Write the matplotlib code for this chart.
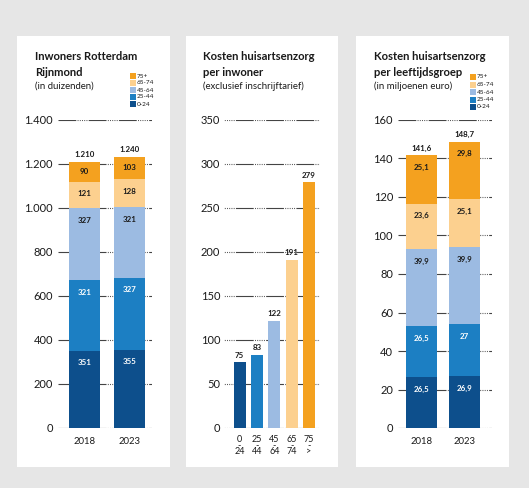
import matplotlib
matplotlib.use("Agg")
import matplotlib.pyplot as plt
from matplotlib.patches import Rectangle

plt.rcParams['font.family'] = ['Lato', 'DejaVu Sans']

# data
groups = ["0-24", "25-44", "45-64", "65-74", "75+"]
colors = ["#0d4f8c", "#1c7fc3", "#9cbbe2", "#fcd08f", "#f4a11f"]

years = ["2018", "2023"]
inwoners_2018 = [351, 321, 327, 121, 90]
inwoners_2023 = [355, 327, 321, 128, 103]
inwoners_totals = [1210, 1240]

kosten_per_inwoner = [75, 83, 122, 191, 279]
leeftijd_labels = ["0\n-\n24", "25\n-\n44", "45\n-\n64", "65\n-\n74", "75\n-\n>"]

kosten_2018 = [26.5, 26.5, 39.9, 23.6, 25.1]
kosten_2023 = [26.9, 27, 39.9, 25.1, 29.8]
kosten_totals = [141.6, 148.7]

W, H = 529, 488
TXT = "#1a1a1a"
GRID_DASH = (16, 1.2, 0.8, 1.2, 0.8, 1.2, 0.8, 1.2, 0.8, 1.2, 0.8, 1.2)


def nl(v):
    """Dutch number format"""
    if float(v).is_integer():
        return f"{int(v):,}".replace(",", ".")
    return f"{v}".replace(".", ",")


def fx(px):
    return px / W


def fy(py):
    return 1 - py / H


fig = plt.figure(figsize=(W / 100, H / 100), dpi=100, facecolor="#e6e6e6")

# white panels
for x0, x1 in [(17, 170), (186, 338), (356, 509)]:
    fig.patches.append(Rectangle((fx(x0), fy(467)), fx(x1 - x0), (467 - 36) / H,
                                 transform=fig.transFigure, facecolor="white",
                                 edgecolor="none", zorder=-5))


def make_axes(x0, x1):
    ax = fig.add_axes([fx(x0), fy(428), fx(x1 - x0), (428 - 120) / H])
    ax.set_facecolor("none")
    ax.patch.set_alpha(0)
    for s in ax.spines.values():
        s.set_visible(False)
    return ax


def setup_y(ax, ticks, ymax, pad, offset=0):
    ax.set_ylim(0, ymax)
    ax.set_yticks(ticks)
    ax.set_yticklabels([nl(t) for t in ticks], fontsize=8, color=TXT)
    ax.tick_params(axis="y", length=0, pad=pad)
    for t in ticks:
        ax.axhline(t, color="#444444", lw=0.8,
                   linestyle=(offset, GRID_DASH), zorder=1)


def legend(x, y, step):
    for i, (g, c) in enumerate(zip(groups[::-1], colors[::-1])):
        yy = y + i * step
        fig.patches.append(Rectangle((fx(x), fy(yy + 3)), fx(6), 6 / H,
                                     transform=fig.transFigure, facecolor=c,
                                     edgecolor="none"))
        fig.text(fx(x + 7), fy(yy), g, fontsize=4.6, color=TXT,
                 va="center", ha="left")


def titles(x, lines, sub):
    fig.text(fx(x), fy(57), lines[0], fontsize=8.1, weight="bold", color=TXT,
             va="center")
    fig.text(fx(x), fy(72), lines[1], fontsize=8.1, weight="bold", color=TXT,
             va="center")
    fig.text(fx(x), fy(86), sub, fontsize=6.9, color=TXT, va="center")


def stacked(ax, series, totals, width):
    px_per_unit = ax.get_window_extent().height / ax.get_ylim()[1]
    for xi, vals in enumerate(series):
        bottom = 0
        for v, c, g in zip(vals, colors, groups):
            ax.bar(xi, v, width=width, bottom=bottom, color=c, zorder=2)
            top = bottom + v
            off = min(12, v * px_per_unit / 2)
            tc = "white" if g in ("0-24", "25-44") else TXT
            ax.annotate(nl(v), (xi, top), xytext=(0, -off),
                        textcoords="offset pixels", ha="center", va="center",
                        fontsize=5.7, weight="bold", color=tc, zorder=3)
            bottom = top
        ax.annotate(nl(totals[xi]), (xi, bottom), xytext=(0, 7),
                    textcoords="offset pixels", ha="center", va="center",
                    fontsize=5.7, weight="bold", color=TXT)


# panel 1
ax1 = make_axes(58, 152)
ax1.set_xlim(-0.589, 1.5)
setup_y(ax1, list(range(0, 1401, 200)), 1400, pad=3.6)
stacked(ax1, [inwoners_2018, inwoners_2023], inwoners_totals, 0.69)
ax1.set_xticks(range(len(years)))
ax1.set_xticklabels(years, fontsize=6.8, color=TXT)
ax1.tick_params(axis="x", length=0, pad=6.5)
titles(35, ["Inwoners Rotterdam", "Rijnmond"], "(in duizenden)")
legend(130, 76, 7)

# panel 2
ax2 = make_axes(223, 320)
ax2.set_xlim(-0.95, 4.63)
setup_y(ax2, list(range(0, 351, 50)), 350, pad=2, offset=16)
ax2.bar(range(len(kosten_per_inwoner)), kosten_per_inwoner, width=0.69,
        color=colors, zorder=2)
for i, v in enumerate(kosten_per_inwoner):
    ax2.annotate(nl(v), (i, v), xytext=(0, 7), textcoords="offset pixels",
                 ha="center", va="center", fontsize=5.7, weight="bold", color=TXT)
ax2.set_xticks(range(len(leeftijd_labels)))
ax2.set_xticklabels(leeftijd_labels, fontsize=6.5, color=TXT, linespacing=0.6,
                    va="top")
ax2.tick_params(axis="x", length=0, pad=5)
titles(203, ["Kosten huisartsenzorg", "per inwoner"], "(exclusief inschrijftarief)")

# panel 3
ax3 = make_axes(398, 492)
ax3.set_xlim(-0.547, 1.64)
setup_y(ax3, list(range(0, 161, 20)), 160, pad=3.6)
stacked(ax3, [kosten_2018, kosten_2023], kosten_totals, 0.72)
ax3.set_xticks(range(len(years)))
ax3.set_xticklabels(years, fontsize=6.8, color=TXT)
ax3.tick_params(axis="x", length=0, pad=6.5)
titles(374, ["Kosten huisartsenzorg", "per leeftijdsgroep"], "(in miljoenen euro)")
legend(470, 77, 7.5)

fig.savefig("out.png", dpi=100, facecolor=fig.get_facecolor())
